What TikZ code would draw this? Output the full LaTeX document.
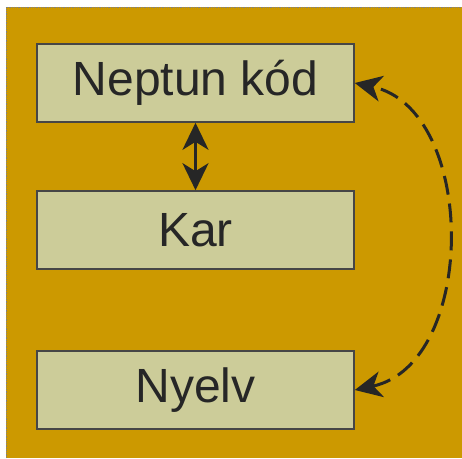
\documentclass[tikz,border=0pt]{standalone}
\usepackage{fontspec}
\setmainfont{Liberation Sans}
\usepackage{xcolor}
\usepackage{tikz}
\usetikzlibrary{arrows.meta}

\definecolor{mustard}{RGB}{204,153,0}
\definecolor{khaki}{RGB}{204,204,153}
\definecolor{ink}{RGB}{38,38,38}
\definecolor{rim}{RGB}{70,70,70}

\begin{document}
\begin{tikzpicture}
    [%%%%%%%%%%%%%%%%%%%%%%%%%%%%%%
        x=1pt,y=1pt,
        >={Stealth[length=27pt,width=26pt,inset=8pt]},
        field/.style={rectangle,draw=rim,line width=1.6pt,fill=khaki,
            minimum width=317pt,minimum height=78pt,inner sep=0pt,
            text=ink,font=\fontsize{48}{56}\selectfont},
        link/.style={draw=ink,line width=3pt,<->},
    ]%%%%%%%%%%%%%%%%%%%%%%%%%%%%%%

\useasboundingbox (0,0) rectangle (462,458);

% backdrop
\fill[mustard] (6,0) rectangle (462,451);
\draw[gray,densely dotted,line width=0.8pt] (6,0) -- (6,451) -- (462,451);

% the three fields
\node[field] (neptun) at (195.5,375) {Neptun kód};
\node[field] (kar)    at (195.5,228) {Kar};
\node[field] (nyelv)  at (195.5,68)  {Nyelv};

% links
\draw[link] (neptun.south) -- (kar.north);
\draw[link,dash pattern=on 19pt off 9pt] (nyelv.east) to[out=12,in=-12,looseness=1.05] (neptun.east);

\end{tikzpicture}
\end{document}
